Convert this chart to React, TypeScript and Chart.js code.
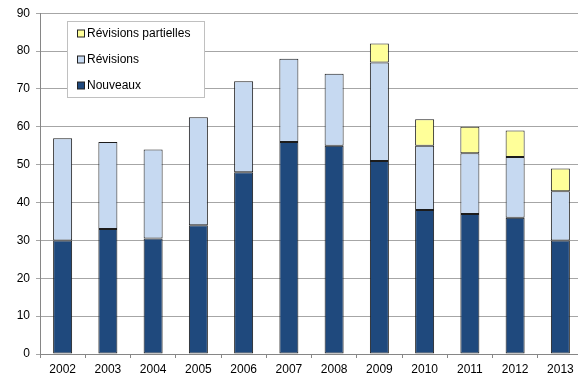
import { useEffect, useRef } from "react";
import { Chart, registerables } from "chart.js";

Chart.register(...registerables);

const years = ["2002", "2003", "2004", "2005", "2006", "2007", "2008", "2009", "2010", "2011", "2012", "2013"];
const nouveaux = [30, 33, 30.5, 34, 48, 56, 55, 51, 38, 37, 36, 30];
const revisions = [27, 23, 23.5, 28.5, 24, 22, 19, 26, 17, 16, 16, 13];
const revisionsPartielles = [null, null, null, null, null, null, null, 5, 7, 7, 7, 6];

const FONT = "'Liberation Sans', Arial, sans-serif";
const W = 590;
const H = 379;

// Boxed legend drawn inside the plot, last series on top
const insideLegend = {
  id: "insideLegend",
  afterDraw(chart: any) {
    const ctx = chart.ctx as CanvasRenderingContext2D;
    const x = 67.5, y = 21.5, w = 137, h = 76;
    ctx.save();
    ctx.fillStyle = "#ffffff";
    ctx.fillRect(x, y, w, h);
    ctx.strokeStyle = "#c0c0c0";
    ctx.lineWidth = 1;
    ctx.strokeRect(x, y, w, h);
    const items = [...chart.data.datasets].reverse();
    ctx.font = `12px ${FONT}`;
    ctx.textBaseline = "middle";
    ctx.textAlign = "left";
    items.forEach((ds: any, i: number) => {
      const cy = 33.5 + i * 26;
      ctx.fillStyle = ds.backgroundColor;
      ctx.fillRect(77.5, cy - 3.5, 7, 7);
      ctx.strokeStyle = "#222222";
      ctx.strokeRect(77.5, cy - 3.5, 7, 7);
      ctx.fillStyle = "#000000";
      ctx.fillText(ds.label, 87, cy + 0.5);
    });
    ctx.restore();
  },
};

export default function App() {
  const ref = useRef<HTMLCanvasElement>(null);

  useEffect(() => {
    if (!ref.current) return;
    const common = {
      borderColor: "#1c1c1c",
      borderWidth: 1,
      borderSkipped: false,
      barPercentage: 0.42,
      categoryPercentage: 1,
    };
    const chart = new Chart(ref.current, {
      type: "bar",
      data: {
        labels: years,
        datasets: [
          { label: "Nouveaux", data: nouveaux, backgroundColor: "#1f497d", ...common },
          { label: "Révisions", data: revisions, backgroundColor: "#c6d9f1", ...common },
          { label: "Révisions partielles", data: revisionsPartielles as any, backgroundColor: "#ffff99", ...common },
        ],
      },
      options: {
        responsive: false,
        animation: false,
        layout: { padding: { top: 11, right: 7, left: 0, bottom: 0 } },
        plugins: {
          legend: { display: false },
          tooltip: { enabled: false },
        },
        scales: {
          x: {
            stacked: true,
            grid: {
              offset: true,
              drawOnChartArea: false,
              drawTicks: true,
              tickLength: 4,
              color: "#868686",
            },
            border: { display: true, color: "#868686" },
            ticks: { color: "#000000", font: { family: FONT, size: 12 }, padding: 4, maxRotation: 0 },
            afterFit: (s: any) => {
              s.height = 25;
            },
          },
          y: {
            stacked: true,
            min: 0,
            max: 90,
            grid: { color: "#a6a6a6", tickLength: 4, drawTicks: true },
            border: { display: true, color: "#868686" },
            ticks: { stepSize: 10, color: "#000000", font: { family: FONT, size: 12 }, padding: 6 },
            afterFit: (s: any) => {
              s.width = 40;
            },
          },
        },
      },
      plugins: [insideLegend],
    });
    return () => chart.destroy();
  }, []);

  return (
    <div style={{ position: "fixed", left: 0, top: 0, width: W, height: H, background: "#ffffff" }}>
      <canvas ref={ref} width={W} height={H} style={{ display: "block" }} />
    </div>
  );
}
